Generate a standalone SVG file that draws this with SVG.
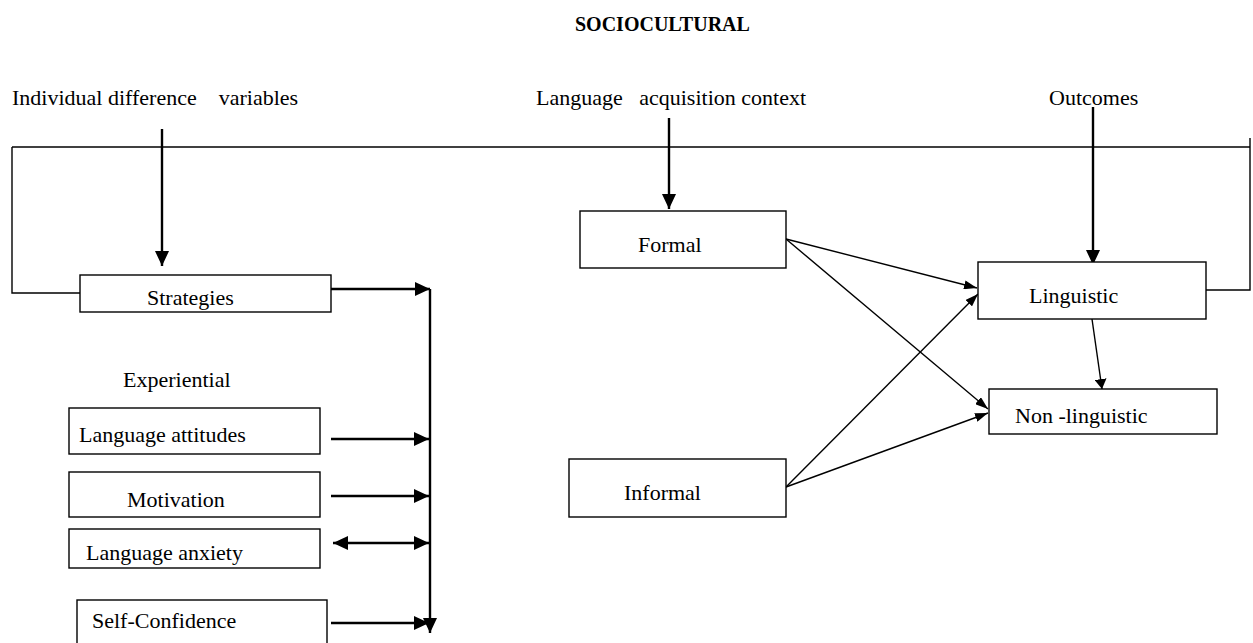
<svg xmlns="http://www.w3.org/2000/svg" width="1253" height="643" viewBox="0 0 1253 643">
<style>
text{font-family:"Liberation Serif","Times New Roman",serif;font-size:22px;fill:#000}
.title{font-weight:bold;font-size:20px}
.box{fill:#fff;stroke:#000;stroke-width:1.4}
.ln{fill:none;stroke:#000;stroke-width:1.4}
.thick{fill:none;stroke:#000;stroke-width:2.4}
</style>
<defs>
<marker id="big" markerUnits="userSpaceOnUse" markerWidth="16" markerHeight="14" refX="15" refY="7" orient="auto" viewBox="0 0 16 14"><path d="M0,0 L15,7 L0,14 z" fill="#000"/></marker>
<marker id="bigs" markerUnits="userSpaceOnUse" markerWidth="16" markerHeight="14" refX="15" refY="7" orient="auto-start-reverse" viewBox="0 0 16 14"><path d="M0,0 L15,7 L0,14 z" fill="#000"/></marker>
<marker id="thin" markerUnits="userSpaceOnUse" markerWidth="14" markerHeight="9" refX="13" refY="4.5" orient="auto" viewBox="0 0 14 9"><path d="M0,0 L13,4.5 L0,9 z" fill="#000"/></marker>
<marker id="mid" markerUnits="userSpaceOnUse" markerWidth="11" markerHeight="12" refX="10" refY="6" orient="auto" viewBox="0 0 11 12"><path d="M0,0 L10,6 L0,12 z" fill="#000"/></marker>
</defs>
<g id="labels">
<text class="title" x="575" y="31">SOCIOCULTURAL</text>
<text x="12" y="105" xml:space="preserve">Individual difference    variables</text>
<text x="536" y="105" xml:space="preserve">Language   acquisition context</text>
<text x="1049" y="105">Outcomes</text>
<text x="123" y="387">Experiential</text>
</g>
<g id="connectors">
<path class="ln" d="M12,147 H1250"/>
<path class="ln" d="M12,147 V293 H80"/>
<path class="ln" d="M1250,138 V290 H1206"/>
<path class="thick" d="M162,129 V266" marker-end="url(#big)"/>
<path class="thick" d="M669,118 V209" stroke-width="2" marker-end="url(#big)"/>
<path class="thick" d="M1093,107 V265" marker-end="url(#big)"/>
<path class="thick" d="M331,289 H430" marker-end="url(#big)"/>
<path class="thick" d="M430,289 V633" stroke-width="2" marker-end="url(#big)"/>
<path class="thick" d="M331,439 H429" stroke-width="2" marker-end="url(#big)"/>
<path class="thick" d="M331,496 H429" stroke-width="2" marker-end="url(#big)"/>
<path class="thick" d="M333,543 H429" stroke-width="2" marker-start="url(#bigs)" marker-end="url(#big)"/>
<path class="thick" d="M331,623 H429" stroke-width="2" marker-end="url(#big)"/>
<path class="ln" d="M786,239 L977,288" marker-end="url(#thin)"/>
<path class="ln" d="M786,239 L988,409" marker-end="url(#thin)"/>
<path class="ln" d="M786,487 L978,294" marker-end="url(#thin)"/>
<path class="ln" d="M786,487 L988,413" marker-end="url(#thin)"/>
<path class="ln" d="M1092,319 L1102,389" marker-end="url(#mid)"/>
</g>
<g id="node-strategies"><rect class="box" x="80" y="275" width="251" height="37"/><text x="147" y="305">Strategies</text></g>
<g id="node-attitudes"><rect class="box" x="69" y="408" width="251" height="46"/><text x="79" y="442">Language attitudes</text></g>
<g id="node-motivation"><rect class="box" x="69" y="472" width="251" height="45"/><text x="127" y="507">Motivation</text></g>
<g id="node-anxiety"><rect class="box" x="69" y="529" width="251" height="39"/><text x="86" y="560">Language anxiety</text></g>
<g id="node-selfconfidence"><rect class="box" x="77" y="600" width="250" height="60"/><text x="92" y="628">Self-Confidence</text></g>
<g id="node-formal"><rect class="box" x="580" y="211" width="206" height="57"/><text x="638" y="252">Formal</text></g>
<g id="node-informal"><rect class="box" x="569" y="459" width="217" height="58"/><text x="624" y="500">Informal</text></g>
<g id="node-linguistic"><rect class="box" x="978" y="262" width="228" height="57"/><text x="1029" y="303">Linguistic</text></g>
<g id="node-nonlinguistic"><rect class="box" x="989" y="389" width="228" height="45"/><text x="1015" y="423">Non -linguistic</text></g>
</svg>
